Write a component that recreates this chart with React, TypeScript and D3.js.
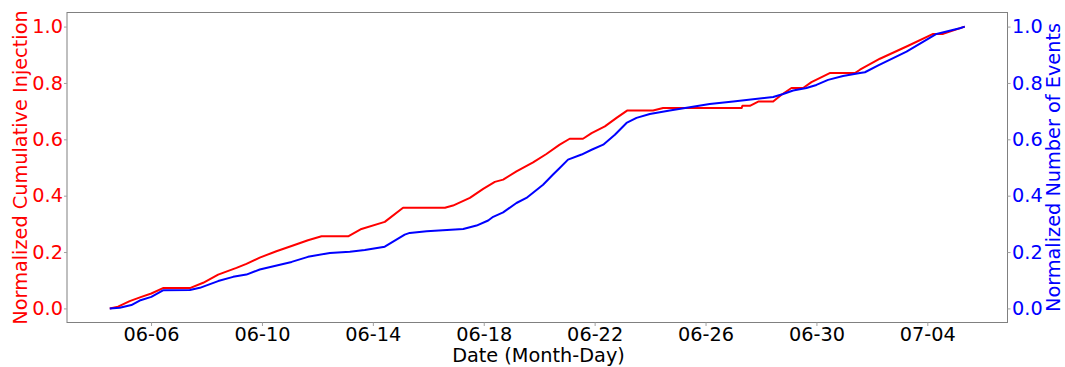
import { useEffect, useRef } from 'react';
import * as d3 from 'd3';

// June-based decimal days (06-04.5 = June 4, noon)
const injectionDays = [
  4.51, 4.81, 5.23, 5.65, 6.01, 6.43, 7.4, 7.88, 8.42, 9.08, 9.44, 9.92, 10.52, 11.12, 11.66,
  12.15, 13.11, 13.59, 14.43, 15.09, 16.6, 16.89, 17.5, 17.98, 18.4, 18.7, 19.18, 19.78, 20.26,
  20.74, 21.1, 21.58, 21.89, 22.37, 22.79, 23.17, 24.11, 24.47, 27.3, 27.33, 27.6, 27.9, 28.44,
  28.74, 29.1, 29.52, 29.82, 30.48, 31.39, 31.57, 32.29, 33.31, 34.21, 34.57, 34.81, 35.35,
];
const injectionValues = [
  0.0, 0.006, 0.026, 0.041, 0.053, 0.072, 0.072, 0.091, 0.12, 0.144, 0.158, 0.18, 0.203, 0.223,
  0.242, 0.256, 0.256, 0.282, 0.307, 0.357, 0.357, 0.365, 0.392, 0.424, 0.449, 0.457, 0.486,
  0.518, 0.548, 0.581, 0.602, 0.602, 0.622, 0.646, 0.676, 0.702, 0.702, 0.711, 0.711, 0.719,
  0.719, 0.734, 0.734, 0.758, 0.782, 0.782, 0.803, 0.835, 0.835, 0.847, 0.886, 0.932, 0.974,
  0.974, 0.982, 1.0,
];

const eventDays = [
  4.51, 4.87, 5.29, 5.59, 6.01, 6.43, 7.4, 7.76, 8.42, 8.96, 9.44, 9.92, 11.07, 11.66, 12.45,
  13.17, 13.71, 14.43, 14.85, 15.15, 15.33, 15.94, 17.26, 17.74, 18.16, 18.34, 18.7, 19.18,
  19.54, 20.14, 20.5, 20.74, 21.04, 21.53, 21.89, 22.31, 22.73, 23.15, 23.51, 23.99, 24.71,
  25.43, 26.15, 27.0, 28.44, 28.8, 29.16, 29.64, 30.0, 30.42, 30.96, 31.57, 31.75, 32.23, 33.25,
  34.33, 35.17, 35.35,
];
const eventValues = [
  0.0, 0.002, 0.012, 0.028, 0.041, 0.064, 0.065, 0.073, 0.097, 0.112, 0.12, 0.138, 0.165, 0.183,
  0.197, 0.201, 0.207, 0.219, 0.244, 0.262, 0.268, 0.274, 0.282, 0.294, 0.312, 0.325, 0.341,
  0.374, 0.392, 0.439, 0.475, 0.498, 0.528, 0.546, 0.563, 0.581, 0.616, 0.658, 0.676, 0.69,
  0.702, 0.714, 0.725, 0.734, 0.75, 0.761, 0.773, 0.782, 0.793, 0.811, 0.825, 0.835, 0.838,
  0.862, 0.911, 0.974, 0.994, 1.0,
];

const xTickDays = [6, 10, 14, 18, 22, 26, 30, 34];
const yTicks = [0, 0.2, 0.4, 0.6, 0.8, 1.0];

const DAY_MS = 86400000;
const toDate = (d: number) => new Date(Date.UTC(2023, 5, 1) + (d - 1) * DAY_MS);

export default function App() {
  const svgRef = useRef<SVGSVGElement>(null);
  const width = 1065;
  const height = 367;

  useEffect(() => {
    document.body.style.margin = '0';
    if (!svgRef.current) return;
    const svg = d3.select(svgRef.current);
    svg.selectAll('*').remove();

    const left = 67;
    const right = 1007.5;
    const top = 12.5;
    const bottom = 322.5;
    const font = 'DejaVu Sans, sans-serif';
    const fs = '19.3px';

    const first = Math.min(injectionDays[0], eventDays[0]);
    const last = Math.max(injectionDays[injectionDays.length - 1], eventDays[eventDays.length - 1]);
    const pad = (last - first) * 0.05;

    const x = d3
      .scaleUtc()
      .domain([toDate(first - pad), toDate(last + pad)])
      .range([left, right]);
    const y = d3.scaleLinear().domain([-0.05, 1.05]).range([bottom, top]);

    const line = d3
      .line<[number, number]>()
      .x((d) => x(toDate(d[0])))
      .y((d) => y(d[1]));

    // lines
    svg
      .append('path')
      .datum(injectionDays.map((d, i) => [d, injectionValues[i]] as [number, number]))
      .attr('d', line)
      .attr('fill', 'none')
      .attr('stroke', '#ff0000')
      .attr('stroke-width', 2)
      .attr('stroke-linejoin', 'round');

    svg
      .append('path')
      .datum(eventDays.map((d, i) => [d, eventValues[i]] as [number, number]))
      .attr('d', line)
      .attr('fill', 'none')
      .attr('stroke', '#0000ff')
      .attr('stroke-width', 2)
      .attr('stroke-linejoin', 'round');

    // frame
    svg
      .append('rect')
      .attr('x', left)
      .attr('y', top)
      .attr('width', right - left)
      .attr('height', bottom - top)
      .attr('fill', 'none')
      .attr('stroke', '#808080')
      .attr('stroke-width', 1);

    // x axis
    const xAxis = svg
      .append('g')
      .attr('transform', `translate(0,${bottom})`)
      .call(
        d3
          .axisBottom(x)
          .tickValues(xTickDays.map(toDate))
          .tickFormat((d) => d3.utcFormat('%m-%d')(d as Date))
          .tickSize(3.5)
          .tickPadding(1.5),
      );
    xAxis.select('.domain').remove();
    xAxis.selectAll('line').attr('stroke', '#a0a0a0');
    xAxis
      .selectAll('text')
      .attr('fill', '#000')
      .attr('font-family', font)
      .attr('font-size', fs);

    // left axis
    const yLeft = svg
      .append('g')
      .attr('transform', `translate(${left},0)`)
      .call(d3.axisLeft(y).tickValues(yTicks).tickFormat(d3.format('.1f')).tickSize(3).tickPadding(1));
    yLeft.select('.domain').remove();
    yLeft.selectAll('line').attr('stroke', '#a0a0a0');
    yLeft
      .selectAll('text')
      .attr('fill', '#ff0000')
      .attr('font-family', font)
      .attr('font-size', fs);

    // right axis
    const yRight = svg
      .append('g')
      .attr('transform', `translate(${right},0)`)
      .call(d3.axisRight(y).tickValues(yTicks).tickFormat(d3.format('.1f')).tickSize(3).tickPadding(1.5));
    yRight.select('.domain').remove();
    yRight.selectAll('line').attr('stroke', '#a0a0a0');
    yRight
      .selectAll('text')
      .attr('fill', '#0000ff')
      .attr('font-family', font)
      .attr('font-size', fs);

    // axis labels
    svg
      .append('text')
      .attr('x', 538.5)
      .attr('y', 361.5)
      .attr('text-anchor', 'middle')
      .attr('font-family', font)
      .attr('font-size', fs)
      .attr('fill', '#000')
      .text('Date (Month-Day)');

    svg
      .append('text')
      .attr('transform', `translate(26.5,${(top + bottom) / 2}) rotate(-90)`)
      .attr('text-anchor', 'middle')
      .attr('font-family', font)
      .attr('font-size', fs)
      .attr('fill', '#ff0000')
      .text('Normalized Cumulative Injection');

    svg
      .append('text')
      .attr('transform', `translate(1060,${(top + bottom) / 2}) rotate(-90)`)
      .attr('text-anchor', 'middle')
      .attr('font-family', font)
      .attr('font-size', fs)
      .attr('fill', '#0000ff')
      .text('Normalized Number of Events');
  }, []);

  return <svg ref={svgRef} width={width} height={height} style={{ display: 'block', background: '#fff' }} />;
}
